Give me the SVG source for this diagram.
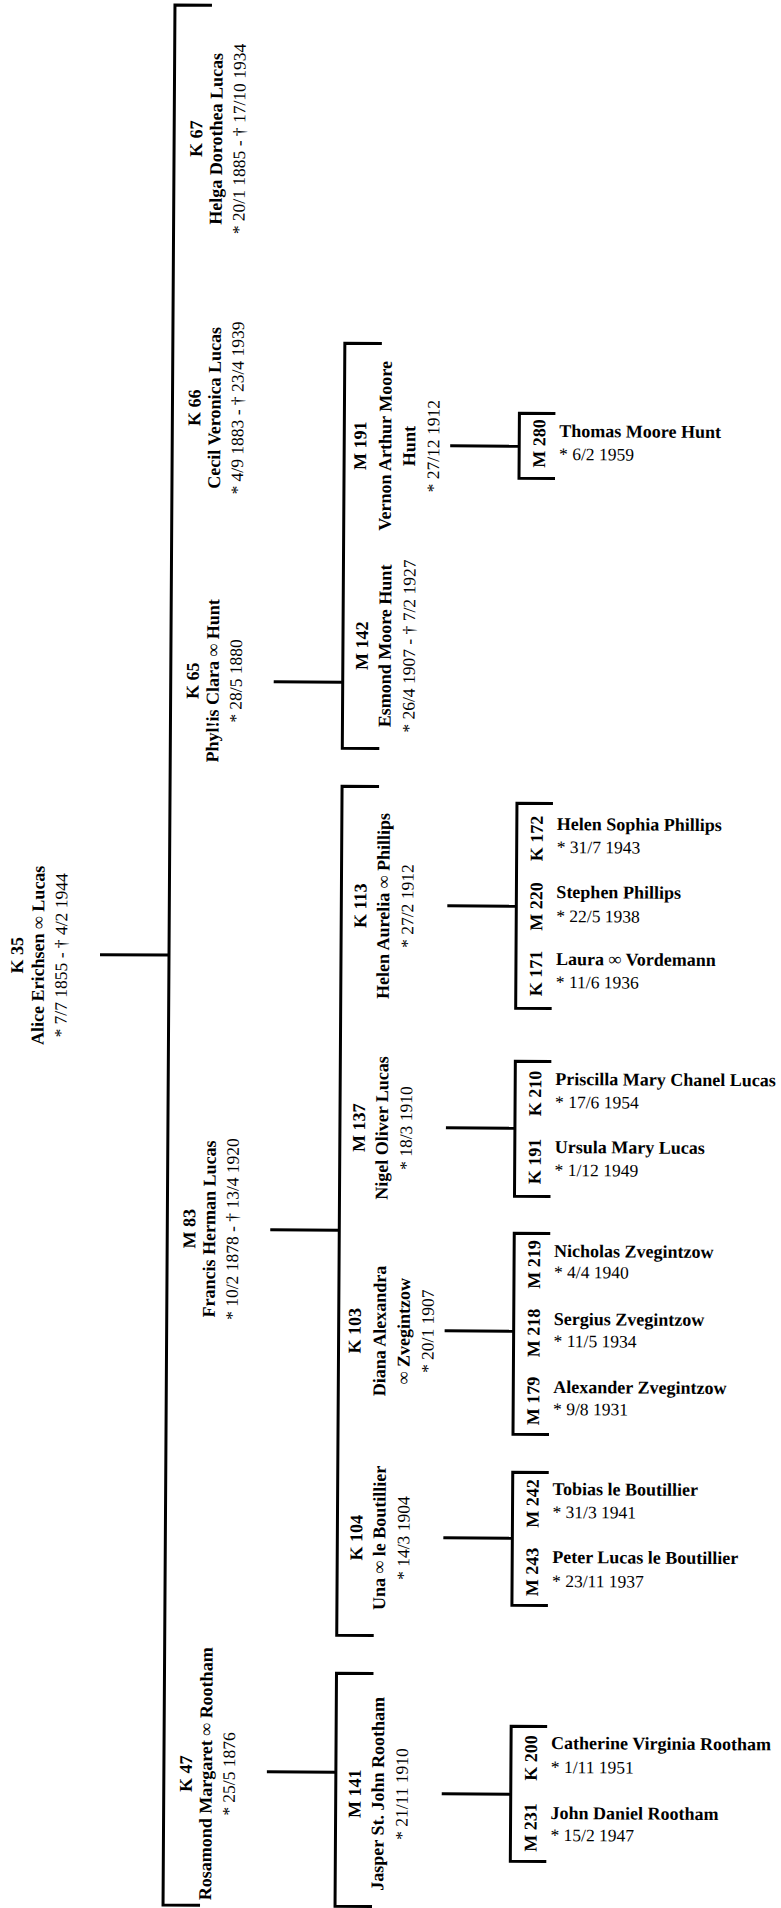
<svg xmlns="http://www.w3.org/2000/svg" width="781" height="1908" viewBox="0 0 781 1908">
<style>
.b{font-family:"Liberation Serif","Times New Roman",serif;font-weight:bold;font-size:18px;fill:#000}
.d{font-family:"Liberation Serif","Times New Roman",serif;font-size:17.5px;fill:#000}
.m{text-anchor:middle}
.ln{fill:none;stroke:#000;stroke-width:3;stroke-linejoin:miter;stroke-linecap:butt}
</style>
<rect width="781" height="1908" fill="#fff"/>
<g transform="rotate(0.36)">
<g id="connectors" class="ln">
<path d="M212,4 H175 V1904 H212"/>
<path d="M106,954 H175"/>
<path d="M278,680 H347"/>
<path d="M278,1228 H347"/>
<path d="M278,1770 H347"/>
<path d="M384,341 H347 V746 H384"/>
<path d="M384,784 H347 V1633 H384"/>
<path d="M384,1671 H347 V1904 H384"/>
<path d="M453,443 H522"/>
<path d="M453,903 H522"/>
<path d="M453,1125 H522"/>
<path d="M453,1328 H522"/>
<path d="M453,1535 H522"/>
<path d="M453,1791 H522"/>
<path d="M558,410 H522 V475 H558"/>
<path d="M558,800 H522 V1005 H558"/>
<path d="M558,1058 H522 V1193 H558"/>
<path d="M558,1230 H522 V1431 H558"/>
<path d="M558,1469 H522 V1602 H558"/>
<path d="M558,1723 H522 V1858 H558"/>
</g>

<g id="K35">
<text class="b m" transform="translate(29,955) rotate(-90)">K 35</text>
<text class="b m" transform="translate(50,955) rotate(-90)">Alice Erichsen ∞ Lucas</text>
<text class="d m" transform="translate(73,955) rotate(-90)">* 7/7 1855 - † 4/2 1944</text>
</g>

<g id="K67">
<text class="b m" transform="translate(203,137.5) rotate(-90)">K 67</text>
<text class="b m" transform="translate(223,137.5) rotate(-90)">Helga Dorothea Lucas</text>
<text class="d m" transform="translate(246,137.5) rotate(-90)">* 20/1 1885 - † 17/10 1934</text>
</g>
<g id="K66">
<text class="b m" transform="translate(203,406.5) rotate(-90)">K 66</text>
<text class="b m" transform="translate(223,406.5) rotate(-90)">Cecil Veronica Lucas</text>
<text class="d m" transform="translate(246,406.5) rotate(-90)">* 4/9 1883 - † 23/4 1939</text>
</g>
<g id="K65">
<text class="b m" transform="translate(203,679.5) rotate(-90)">K 65</text>
<text class="b m" transform="translate(223,679.5) rotate(-90)">Phyl!is Clara ∞ Hunt</text>
<text class="d m" transform="translate(246,679.5) rotate(-90)">* 28/5 1880</text>
</g>
<g id="M83">
<text class="b m" transform="translate(203,1227.5) rotate(-90)">M 83</text>
<text class="b m" transform="translate(223,1227.5) rotate(-90)">Francis Herman Lucas</text>
<text class="d m" transform="translate(246,1227.5) rotate(-90)">* 10/2 1878 - † 13/4 1920</text>
</g>
<g id="K47">
<text class="b m" transform="translate(203,1772.5) rotate(-90)">K 47</text>
<text class="b m" transform="translate(223,1772.5) rotate(-90)">Rosamond Margaret ∞ Rootham</text>
<text class="d m" transform="translate(246,1772.5) rotate(-90)">* 25/5 1876</text>
</g>

<g id="M191">
<text class="b m" transform="translate(369,443.5) rotate(-90)">M 191</text>
<text class="b m" transform="translate(394,443.5) rotate(-90)">Vernon Arthur Moore</text>
<text class="b m" transform="translate(418,443.5) rotate(-90)">Hunt</text>
<text class="d m" transform="translate(442,443.5) rotate(-90)">* 27/12 1912</text>
</g>
<g id="M142">
<text class="b m" transform="translate(372,643.5) rotate(-90)">M 142</text>
<text class="b m" transform="translate(395,643.5) rotate(-90)">Esmond Moore Hunt</text>
<text class="d m" transform="translate(419,643.5) rotate(-90)">* 26/4 1907 - † 7/2 1927</text>
</g>
<g id="K113">
<text class="b m" transform="translate(372,903.5) rotate(-90)">K 113</text>
<text class="b m" transform="translate(395,903.5) rotate(-90)">Helen Aurelia ∞ Phillips</text>
<text class="d m" transform="translate(419,903.5) rotate(-90)">* 27/2 1912</text>
</g>
<g id="M137">
<text class="b m" transform="translate(372,1125.5) rotate(-90)">M 137</text>
<text class="b m" transform="translate(395,1125.5) rotate(-90)">Nigel Oliver Lucas</text>
<text class="d m" transform="translate(419,1125.5) rotate(-90)">* 18/3 1910</text>
</g>
<g id="K103">
<text class="b m" transform="translate(369,1328.5) rotate(-90)">K 103</text>
<text class="b m" transform="translate(394,1328.5) rotate(-90)">Diana Alexandra</text>
<text class="b m" transform="translate(418,1328.5) rotate(-90)">∞ Zvegintzow</text>
<text class="d m" transform="translate(442,1328.5) rotate(-90)">* 20/1 1907</text>
</g>
<g id="K104">
<text class="b m" transform="translate(372,1535.5) rotate(-90)">K 104</text>
<text class="b m" transform="translate(395,1535.5) rotate(-90)">Una ∞ le Boutillier</text>
<text class="d m" transform="translate(419,1535.5) rotate(-90)">* 14/3 1904</text>
</g>
<g id="M141">
<text class="b m" transform="translate(372,1791.5) rotate(-90)">M 141</text>
<text class="b m" transform="translate(395,1791.5) rotate(-90)">Jasper St. John Rootham</text>
<text class="d m" transform="translate(419,1791.5) rotate(-90)">* 21/11 1910</text>
</g>

<g id="M280">
<text class="b m" transform="translate(548,440) rotate(-90)">M 280</text>
<text class="b" x="562" y="433.5">Thomas Moore Hunt</text>
<text class="d" x="562" y="456.5">* 6/2 1959</text>
</g>
<g id="K172">
<text class="b m" transform="translate(548,835) rotate(-90)">K 172</text>
<text class="b" x="562" y="826.5">Helen Sophia Phillips</text>
<text class="d" x="562" y="849.5">* 31/7 1943</text>
</g>
<g id="M220">
<text class="b m" transform="translate(548,903) rotate(-90)">M 220</text>
<text class="b" x="562" y="894.5">Stephen Phillips</text>
<text class="d" x="562" y="918.5">* 22/5 1938</text>
</g>
<g id="K171">
<text class="b m" transform="translate(548,970) rotate(-90)">K 171</text>
<text class="b" x="562" y="961.5">Laura ∞ Vordemann</text>
<text class="d" x="562" y="984.5">* 11/6 1936</text>
</g>
<g id="K210">
<text class="b m" transform="translate(548,1090) rotate(-90)">K 210</text>
<text class="b" x="562" y="1081.5">Priscilla Mary Chanel Lucas</text>
<text class="d" x="562" y="1104.5">* 17/6 1954</text>
</g>
<g id="K191">
<text class="b m" transform="translate(548,1158) rotate(-90)">K 191</text>
<text class="b" x="562" y="1149.5">Ursula Mary Lucas</text>
<text class="d" x="562" y="1172.5">* 1/12 1949</text>
</g>
<g id="M219">
<text class="b m" transform="translate(548,1261) rotate(-90)">M 219</text>
<text class="b" x="562" y="1253.5">Nicholas Zvegintzow</text>
<text class="d" x="562" y="1274.5">* 4/4 1940</text>
</g>
<g id="M218">
<text class="b m" transform="translate(548,1329.5) rotate(-90)">M 218</text>
<text class="b" x="562" y="1321.5">Sergius Zvegintzow</text>
<text class="d" x="562" y="1343.5">* 11/5 1934</text>
</g>
<g id="M179">
<text class="b m" transform="translate(548,1397.5) rotate(-90)">M 179</text>
<text class="b" x="562" y="1389.5">Alexander Zvegintzow</text>
<text class="d" x="562" y="1411.5">* 9/8 1931</text>
</g>
<g id="M242">
<text class="b m" transform="translate(548,1500) rotate(-90)">M 242</text>
<text class="b" x="562" y="1491.5">Tobias le Boutillier</text>
<text class="d" x="562" y="1514.5">* 31/3 1941</text>
</g>
<g id="M243">
<text class="b m" transform="translate(548,1568.5) rotate(-90)">M 243</text>
<text class="b" x="562" y="1559.5">Peter Lucas le Boutillier</text>
<text class="d" x="562" y="1583.5">* 23/11 1937</text>
</g>
<g id="K200">
<text class="b m" transform="translate(548,1754.5) rotate(-90)">K 200</text>
<text class="b" x="562" y="1745.5">Catherine Virginia Rootham</text>
<text class="d" x="562" y="1769.5">* 1/11 1951</text>
</g>
<g id="M231">
<text class="b m" transform="translate(548,1824) rotate(-90)">M 231</text>
<text class="b" x="562" y="1815.5">John Daniel Rootham</text>
<text class="d" x="562" y="1837.5">* 15/2 1947</text>
</g>
</g>
</svg>
